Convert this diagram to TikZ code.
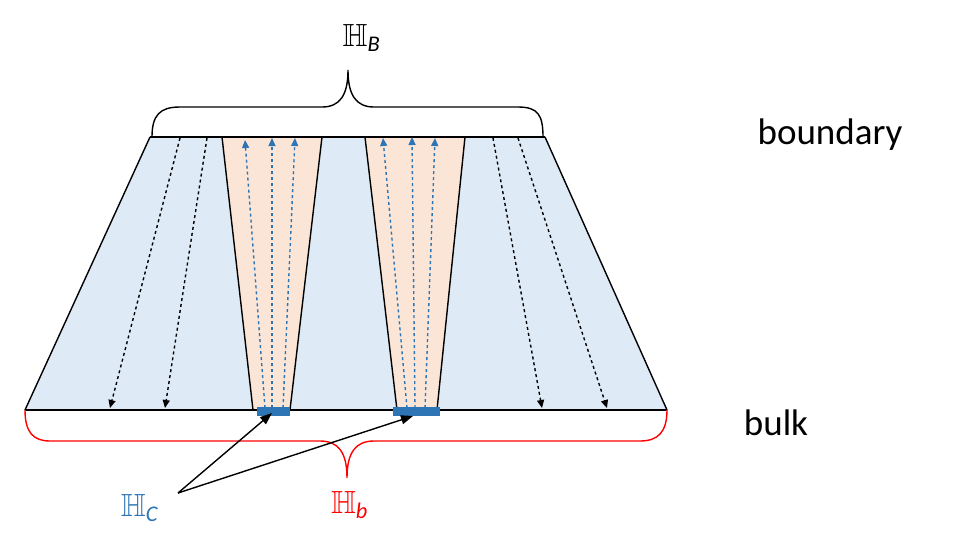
\documentclass[tikz,border=0pt]{standalone}
\usepackage{amssymb}
\usepackage{fontspec}
\setmainfont{Carlito}
\usetikzlibrary{arrows.meta}
\definecolor{lblue}{HTML}{DEEAF6}
\definecolor{lorange}{HTML}{FBE5D6}
\definecolor{mblue}{HTML}{2E75B6}
\tikzset{
  every path/.style={line width=1.4pt},
  blk/.style={-{Triangle[length=8pt,width=7pt]},dashed},
  blu/.style={-{Triangle[length=8pt,width=7pt]},dashed,mblue},
  lab/.style={scale=3.2}
}
\begin{document}
\begin{tikzpicture}[x=1pt,y=-1pt]
\useasboundingbox (0,0) rectangle (978,542);
\fill[lblue] (150,137)--(545,137)--(667,410)--(25,410)--cycle;
\draw (25,410)--(150,137);
\draw (545,137)--(667,410);
\filldraw[fill=lorange] (222,137)--(253,410)--(290,410)--(322,137);
\filldraw[fill=lorange] (365,137)--(397,410)--(437,410)--(465,137);
\draw (150,137)--(545,137);
\draw (25,410)--(667,410);
\fill[mblue] (257,407) rectangle (290,416);
\fill[mblue] (393,407) rectangle (440,416);
\coordinate (bar1) at (272,413);
\coordinate (bar2) at (413,416);
\draw[blk] (180,138)--(110,408);
\draw[blk] (207,138)--(165,408);
\draw[blk] (493,138)--(542,408);
\draw[blk] (518,138)--(607,408);
\draw[blu] (265,408)--(245,140);
\draw[blu] (272,408)--(272,138);
\draw[blu] (283,408)--(295,138);
\draw[blu] (407,408)--(383,138);
\draw[blu] (415,408)--(412,137);
\draw[blu] (425,408)--(435,138);
% top brace
\draw (152,137) .. controls (152,115) and (160,107) .. (180,107) -- (322,107) .. controls (340,107) and (348,95) .. (348,70)
  .. controls (348,95) and (356,107) .. (374,107) -- (518,107) .. controls (538,107) and (543,115) .. (543,137);
% bottom brace
\draw[red] (25,410) .. controls (25,432) and (33,441) .. (50,441) -- (320,441) .. controls (338,441) and (347,452) .. (347,478)
  .. controls (347,452) and (356,441) .. (374,441) -- (640,441) .. controls (658,441) and (667,432) .. (667,410);
\node[lab] (HB) at (362,38) {$\mathbb{H}_{\mathit{B}}$};
\node[lab,mblue] (HC) at (140,508) {$\mathbb{H}_{\mathit{C}}$};
\node[lab,red] (Hb) at (350,505) {$\mathbb{H}_{\mathbf{\mathit{b}}}$};
\coordinate (src) at (178,493);
\draw[-{Triangle[length=12pt,width=9pt]}] (src)--(bar1);
\draw[-{Triangle[length=12pt,width=9pt]}] (src)--(bar2);
\node[font=\fontsize{37}{42}\selectfont] (bd) at (830,135) {boundary};
\node[font=\fontsize{37}{42}\selectfont] (bk) at (776,423) {bulk};
\end{tikzpicture}
\end{document}
